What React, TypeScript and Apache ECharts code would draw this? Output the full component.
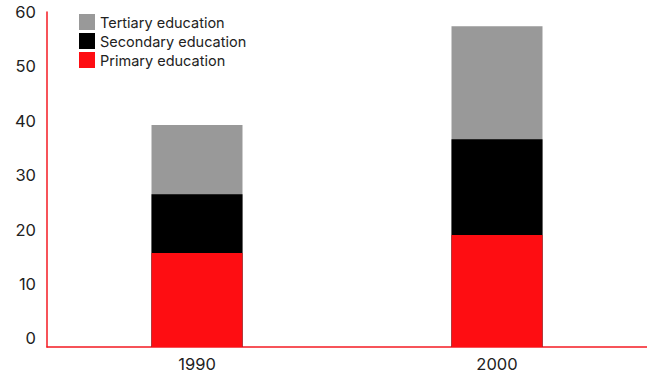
import React, { useEffect, useRef } from "react";
import * as echarts from "echarts";

const categories = ["1990", "2000"];
const primary = [15.7, 19.0];
const secondary = [10.8, 17.6];
const tertiary = [12.7, 20.8];
const yTicks = [0, 10, 20, 30, 40, 50, 60];

export default function App() {
  const ref = useRef<HTMLDivElement>(null);
  useEffect(() => {
    if (!ref.current) return;
    const chart = echarts.init(ref.current, null, { renderer: "svg" });
    const cum1 = primary.map((v, i) => +(v + secondary[i]).toFixed(2));
    const cum2 = primary.map((v, i) => +(v + secondary[i] + tertiary[i]).toFixed(2));
    const font = "Inter";
    const axisRed = "#f41a22";
    chart.setOption({
      animation: false,
      grid: { left: 47, right: 0, top: 12, bottom: 31, containLabel: false },
      legend: {
        orient: "vertical",
        left: 74,
        top: 9,
        itemWidth: 16,
        itemHeight: 16,
        itemGap: 3,
        icon: "rect",
        data: ["Tertiary education", "Secondary education", "Primary education"],
        textStyle: { fontFamily: font, fontSize: 14.5, color: "#222" },
        selectedMode: false,
      },
      xAxis: {
        type: "category",
        data: categories,
        axisLine: { show: true, onZero: false, lineStyle: { color: axisRed, width: 1.5, opacity: 1 } },
        axisTick: { show: false },
        axisLabel: { fontFamily: font, fontSize: 16.5, color: "#222", margin: 8 },
      },
      yAxis: {
        type: "value",
        min: -1.6,
        max: 60,
        startValue: -1.6,
        axisLine: { show: true, lineStyle: { color: axisRed, width: 1.5, opacity: 1 } },
        axisTick: { show: false },
        splitLine: { show: false },
        axisLabel: {
          customValues: yTicks,
          fontFamily: font,
          fontSize: 16.5,
          color: "#222",
          margin: 11,
        },
      },
      series: [
        {
          name: "Tertiary education",
          type: "bar",
          data: cum2,
          barWidth: 91,
          barGap: "-100%",
          itemStyle: { color: "#999999" },
          z: 1,
        },
        {
          name: "Secondary education",
          type: "bar",
          data: cum1,
          barWidth: 91,
          barGap: "-100%",
          itemStyle: { color: "#000000" },
          z: 2,
        },
        {
          name: "Primary education",
          type: "bar",
          data: primary,
          barWidth: 91,
          barGap: "-100%",
          itemStyle: { color: "#fe0d12" },
          z: 3,
        },
      ],
    });
    return () => chart.dispose();
  }, []);
  return (
    <div
      ref={ref}
      style={{ position: "absolute", left: 0, top: 0, width: 647, height: 378 }}
    />
  );
}
